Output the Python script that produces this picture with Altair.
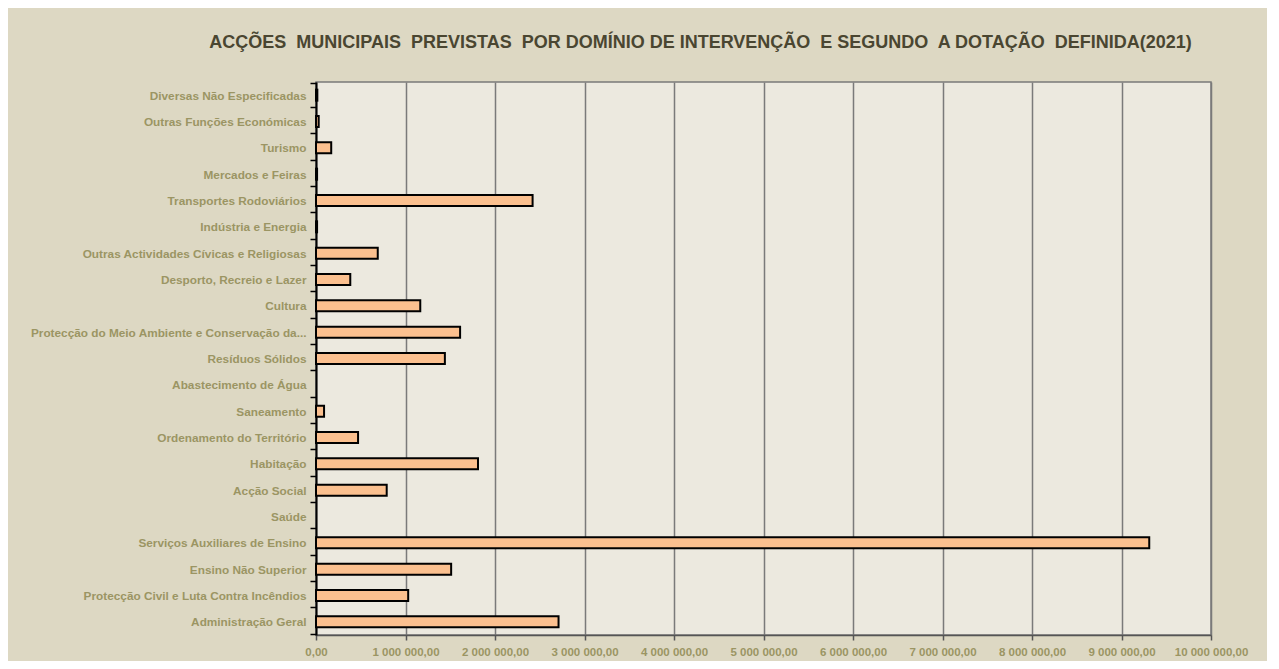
import altair as alt
import pandas as pd

categories = [
    "Diversas Não Especificadas",
    "Outras Funções Económicas",
    "Turismo",
    "Mercados e Feiras",
    "Transportes Rodoviários",
    "Indústria e Energia",
    "Outras Actividades Cívicas e Religiosas",
    "Desporto, Recreio e Lazer",
    "Cultura",
    "Protecção do Meio Ambiente e Conservação da...",
    "Resíduos Sólidos",
    "Abastecimento de Água",
    "Saneamento",
    "Ordenamento do Território",
    "Habitação",
    "Acção Social",
    "Saúde",
    "Serviços Auxiliares de Ensino",
    "Ensino Não Superior",
    "Protecção Civil e Luta Contra Incêndios",
    "Administração Geral",
]
values = [
    15000, 30000, 170000, 12000, 2420000, 12000, 690000, 383000, 1165000,
    1610000, 1440000, 0, 90000, 470000, 1810000, 790000, 0, 9310000,
    1510000, 1030000, 2710000,
]
x_ticks = [0, 1000000, 2000000, 3000000, 4000000, 5000000, 6000000,
           7000000, 8000000, 9000000, 10000000]

title_text = ("ACÇÕES\u00a0 MUNICIPAIS\u00a0 PREVISTAS\u00a0 POR DOMÍNIO DE INTERVENÇÃO\u00a0 "
              "E SEGUNDO\u00a0 A DOTAÇÃO\u00a0 DEFINIDA(2021)")

df = pd.DataFrame({"cat": categories, "value": values})

FONT = "Liberation Sans"
LABEL = "#9B9563"

chart = alt.Chart(df).mark_bar(
    size=11, fill="#FBC08F", stroke="#000000"
).encode(
    x=alt.X("value:Q",
            scale=alt.Scale(domain=[0, 10000000], nice=False),
            axis=alt.Axis(
                values=x_ticks, title=None,
                labelExpr="replace(replace(format(datum.value, ',.2f'), regexp(',', 'g'), ' '), '.', ',')",
                grid=True, gridColor="#7A7A7A", gridWidth=1.5,
                domainColor="#555555", domainWidth=1.5,
                tickColor="#555555", tickSize=5, tickWidth=1.5,
                labelFont=FONT, labelFontSize=11.5, labelFontWeight="bold",
                labelColor=LABEL, labelPadding=6, labelFlush=False,
            )),
    y=alt.Y("cat:N", sort=categories,
            axis=alt.Axis(
                title=None, tickBand="extent",
                domainColor="#000000", domainWidth=2,
                tickColor="#000000", tickSize=6, tickWidth=1.5,
                labelFont=FONT, labelFontSize=11.8, labelFontWeight="bold",
                labelColor=LABEL, labelPadding=4, labelLimit=400,
            )),
    strokeWidth=alt.condition(alt.datum.value > 0, alt.value(2), alt.value(0)),
).properties(
    width=895,
    height=553,
    autosize=alt.AutoSizeParams(type="none"),
    padding={"left": 308, "top": 74, "right": 56, "bottom": 26},
    background="#DDD8C3",
    title=alt.TitleParams(
        text=title_text, font=FONT, fontSize=18, fontWeight="bold",
        color="#4A4631", anchor="middle", dx=-63, offset=25,
    ),
).configure_view(
    fill="#ECE9DF", stroke="#7A7A7A", strokeWidth=1.5,
)

chart.save("out.html", embed_options={"renderer": "svg", "actions": False})
